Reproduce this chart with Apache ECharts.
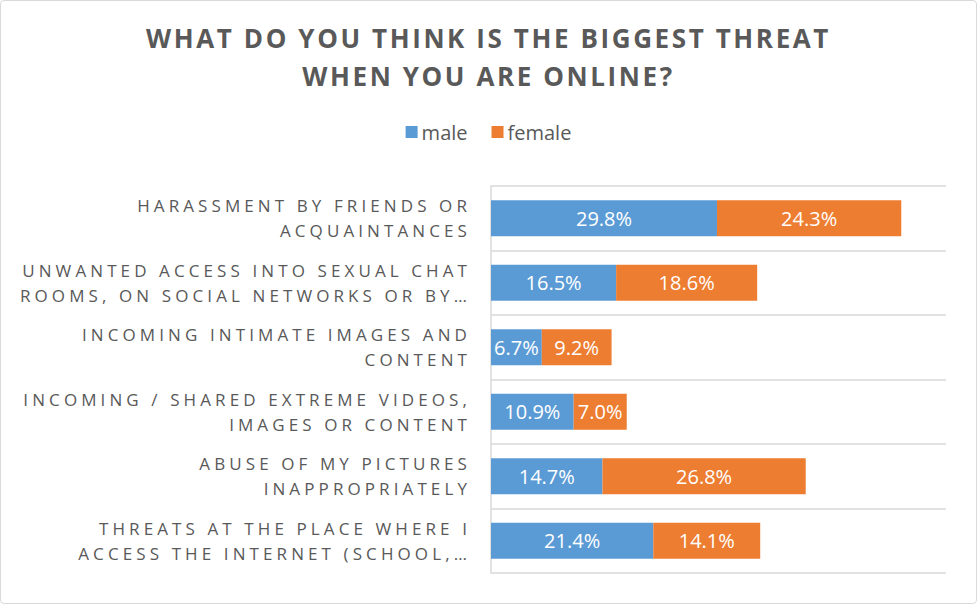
<!DOCTYPE html>
<html>
<head>
<meta charset="utf-8">
<script src="https://cdn.jsdelivr.net/npm/echarts@6/dist/echarts.min.js"></script>
<style>
  html, body { margin: 0; padding: 0; background: #fff; }
  #chart {
    width: 977px; height: 604px; box-sizing: border-box;
    border: 1px solid #D9D9D9; border-radius: 4px; background: #fff;
  }
</style>
</head>
<body>
<div id="chart"></div>
<script>
// Survey answers: share of respondents by gender (percent)
const titleLines = ['WHAT DO YOU THINK IS THE BIGGEST THREAT', 'WHEN YOU ARE ONLINE?'];
const seriesNames = ['male', 'female'];
const categories = [
  'HARASSMENT BY FRIENDS OR\nACQUAINTANCES',
  'UNWANTED ACCESS INTO SEXUAL CHAT\nROOMS, ON SOCIAL NETWORKS OR BY…',
  'INCOMING INTIMATE IMAGES AND\nCONTENT',
  'INCOMING / SHARED EXTREME VIDEOS,\nIMAGES OR CONTENT',
  'ABUSE OF MY PICTURES\nINAPPROPRIATELY',
  'THREATS AT THE PLACE WHERE I\nACCESS THE INTERNET (SCHOOL,…'
];
const maleValues = [29.8, 16.5, 6.7, 10.9, 14.7, 21.4];
const femaleValues = [24.3, 18.6, 9.2, 7.0, 26.8, 14.1];

const FONT = '"Open Sans", "Noto Sans", sans-serif';
const TEXT_GREY = '#595959';
const GRID_GREY = '#D9D9D9';

const chart = echarts.init(document.getElementById('chart'), null, { renderer: 'svg' });

const barLabel = {
  show: true,
  position: 'inside',
  color: '#fff',
  fontFamily: FONT,
  fontSize: 20,
  formatter: p => p.value.toFixed(1) + '%'
};

chart.setOption({
  animation: false,
  title: {
    text: titleLines.join('\n'),
    left: 'center',
    top: 13,
    textStyle: {
      color: TEXT_GREY,
      fontFamily: FONT,
      fontWeight: 'bold',
      fontSize: 26,
      lineHeight: 38
    }
  },
  legend: {
    top: 116,
    left: 'center',
    itemWidth: 12,
    itemHeight: 12,
    itemGap: 24,
    icon: 'rect',
    textStyle: { color: TEXT_GREY, fontFamily: FONT, fontSize: 20, padding: [0, 0, 0, -1] },
    data: seriesNames
  },
  grid: { left: 490, right: 30, top: 185, bottom: 30, containLabel: false },
  xAxis: {
    type: 'value',
    min: 0,
    max: 60,
    axisLabel: { show: false },
    axisLine: { show: false },
    axisTick: { show: false },
    splitLine: { show: false }
  },
  yAxis: {
    type: 'category',
    inverse: true,
    data: categories,
    axisLine: { show: true, lineStyle: { color: GRID_GREY, width: 1.5 } },
    axisTick: { show: false },
    splitLine: { show: true, lineStyle: { color: GRID_GREY, width: 1.5 } },
    axisLabel: {
      interval: 0,
      margin: 20,
      color: TEXT_GREY,
      fontFamily: FONT,
      fontSize: 17,
      lineHeight: 25,
      align: 'right'
    }
  },
  series: [
    {
      name: seriesNames[0],
      type: 'bar',
      stack: 'total',
      data: maleValues,
      barWidth: 36,
      itemStyle: { color: '#5B9BD5' },
      label: barLabel
    },
    {
      name: seriesNames[1],
      type: 'bar',
      stack: 'total',
      data: femaleValues,
      barWidth: 36,
      itemStyle: { color: '#ED7D31' },
      label: barLabel
    }
  ]
});

// Spaced-out capitals for the title and the category names
const titleSet = new Set(titleLines);
const catSet = new Set(categories.flatMap(c => c.split('\n')));
function applySpacing() {
  document.querySelectorAll('#chart svg text').forEach(t => {
    const s = t.textContent;
    if (titleSet.has(s)) t.setAttribute('letter-spacing', '2.6px');
    else if (catSet.has(s)) t.setAttribute('letter-spacing', '4.1px');
  });
}
applySpacing();
chart.on('finished', applySpacing);
</script>
</body>
</html>
